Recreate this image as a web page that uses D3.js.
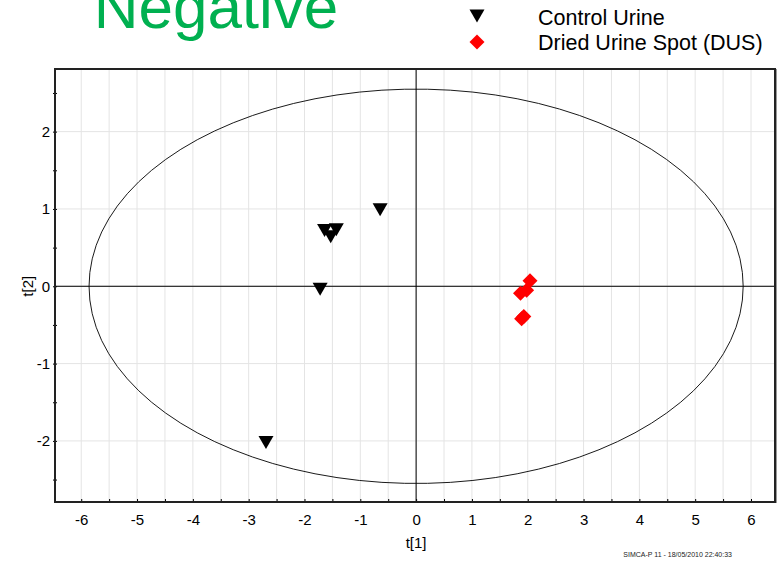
<!DOCTYPE html>
<html>
<head>
<meta charset="utf-8">
<script src="https://cdn.jsdelivr.net/npm/d3@7"></script>
<style>
  html, body { margin: 0; padding: 0; background: #fff; }
  svg { display: block; font-family: "Liberation Sans", Arial, sans-serif; }
</style>
</head>
<body>
<svg id="chart" width="782" height="562"></svg>
<script>
// ---- Data ----
const seriesNames = ["Control Urine", "Dried Urine Spot (DUS)"];
const controlT1 = [-0.645, -1.64, -1.43, -1.53, -1.72, -2.69];
const controlT2 = [0.99, 0.72, 0.73, 0.64, -0.04, -2.02];
const dusT1 = [2.04, 1.98, 1.87, 1.89, 1.93];
const dusT2 = [0.07, -0.05, -0.09, -0.42, -0.39];
const xTickLabels = [-6, -5, -4, -3, -2, -1, 0, 1, 2, 3, 4, 5, 6];
const yTickLabels = [-2, -1, 0, 1, 2];
const ellipseRadii = [5.86, 2.55]; // Hotelling T2 ellipse (t1, t2)
const titleText = "Negative";
const xLabel = "t[1]";
const yLabel = "t[2]";
const footerText = "SIMCA-P 11 - 18/05/2010 22:40:33";

// ---- Layout ----
const svg = d3.select("#chart");
const L = 55, R = 775, T = 69, B = 502;
const x = d3.scaleLinear().domain([-6.47, 6.43]).range([L, R]);
const y = d3.scaleLinear().domain([-2.79, 2.81]).range([B, T]);

const halfTicksX = d3.range(-6.5, 6.51, 0.5).filter(v => x(v) > L + 1 && x(v) < R - 1);
const halfTicksY = d3.range(-2.5, 2.51, 0.5);

// gridlines
const grid = svg.append("g");
grid.selectAll("line.vx").data(halfTicksX).join("line")
  .attr("x1", d => x(d)).attr("x2", d => x(d)).attr("y1", T).attr("y2", B)
  .attr("stroke", "#e4e4e4").attr("stroke-width", 1);
grid.selectAll("line.hy").data(yTickLabels).join("line")
  .attr("x1", L).attr("x2", R).attr("y1", d => y(d)).attr("y2", d => y(d))
  .attr("stroke", "#e4e4e4").attr("stroke-width", 1);

// zero axes
svg.append("line").attr("x1", L).attr("x2", R).attr("y1", y(0)).attr("y2", y(0))
  .attr("stroke", "#000").attr("stroke-width", 1);
svg.append("line").attr("x1", x(0)).attr("x2", x(0)).attr("y1", T).attr("y2", B)
  .attr("stroke", "#000").attr("stroke-width", 1);

// ellipse
const ang = d3.range(0, 361, 4).map(a => a * Math.PI / 180);
svg.append("path")
  .datum(ang)
  .attr("d", d3.line()
    .x(a => x(ellipseRadii[0] * Math.cos(a)))
    .y(a => y(ellipseRadii[1] * Math.sin(a))))
  .attr("fill", "none").attr("stroke", "#000").attr("stroke-width", 0.9);

// axes
const xAxis = svg.append("g").attr("transform", `translate(0,${B})`)
  .call(d3.axisBottom(x).tickValues(halfTicksX).tickSize(-3).tickPadding(12)
    .tickFormat(d => Number.isInteger(d) ? d3.format("")(d) : ""));
const yAxis = svg.append("g").attr("transform", `translate(${L},0)`)
  .call(d3.axisLeft(y).tickValues(halfTicksY).tickSize(3).tickPadding(2)
    .tickFormat(d => Number.isInteger(d) ? d3.format("")(d) : ""));
[xAxis, yAxis].forEach(g => {
  g.select(".domain").remove();
  g.selectAll(".tick line").attr("stroke", "#000");
  g.selectAll("text").attr("font-size", 15).attr("fill", "#000")
    .attr("font-family", "Liberation Sans, Arial, sans-serif");
});
// replace minus sign with hyphen like the reference
svg.selectAll(".tick text").text(function() { return this.textContent.replace("\u2212", "-"); });
yAxis.selectAll(".tick line").attr("x1", -2).attr("x2", 2);
xAxis.selectAll(".tick line").attr("y1", 1).attr("y2", -3);

// frame
svg.append("rect").attr("x", L).attr("y", T).attr("width", R - L).attr("height", B - T)
  .attr("fill", "none").attr("stroke", "#222").attr("stroke-width", 2);
svg.append("line").attr("x1", R + 1.5).attr("x2", R + 1.5).attr("y1", T).attr("y2", B + 1)
  .attr("stroke", "#999").attr("stroke-width", 1);

// markers
const triPath = "M-7.5,-6.5L7.5,-6.5L0,6.5Z";
const diaPath = "M0,-7.5L7.5,0L0,7.5L-7.5,0Z";
const control = controlT1.map((v, i) => ({ t1: v, t2: controlT2[i] }));
const dus = dusT1.map((v, i) => ({ t1: v, t2: dusT2[i] }));
svg.append("g").selectAll("path").data(control).join("path")
  .attr("d", triPath).attr("transform", d => `translate(${x(d.t1)},${y(d.t2)})`)
  .attr("fill", "#000");
svg.append("g").selectAll("path").data(dus).join("path")
  .attr("d", diaPath).attr("transform", d => `translate(${x(d.t1)},${y(d.t2)})`)
  .attr("fill", "#ff0000");

// axis labels
svg.append("text").attr("x", x(0)).attr("y", 548).attr("text-anchor", "middle")
  .attr("font-size", 15).text(xLabel);
svg.append("text").attr("transform", `translate(33,${y(0)}) rotate(-90)`)
  .attr("text-anchor", "middle").attr("font-size", 15).text(yLabel);

// title
svg.append("text").attr("x", 216).attr("y", 28).attr("text-anchor", "middle")
  .attr("font-size", 62).attr("fill", "#00b050").text(titleText);

// legend
const leg = svg.append("g");
leg.append("path").attr("d", triPath).attr("transform", "translate(477,16)").attr("fill", "#000");
leg.append("path").attr("d", diaPath).attr("transform", "translate(477,42)").attr("fill", "#ff0000");
leg.selectAll("text").data(seriesNames).join("text")
  .attr("x", 538).attr("y", (d, i) => 25 + i * 25).attr("font-size", 21.5).attr("fill", "#000")
  .text(d => d);

// footer
svg.append("text").attr("x", 732).attr("y", 557).attr("text-anchor", "end")
  .attr("font-size", 7).attr("fill", "#222").text(footerText);
</script>
</body>
</html>
